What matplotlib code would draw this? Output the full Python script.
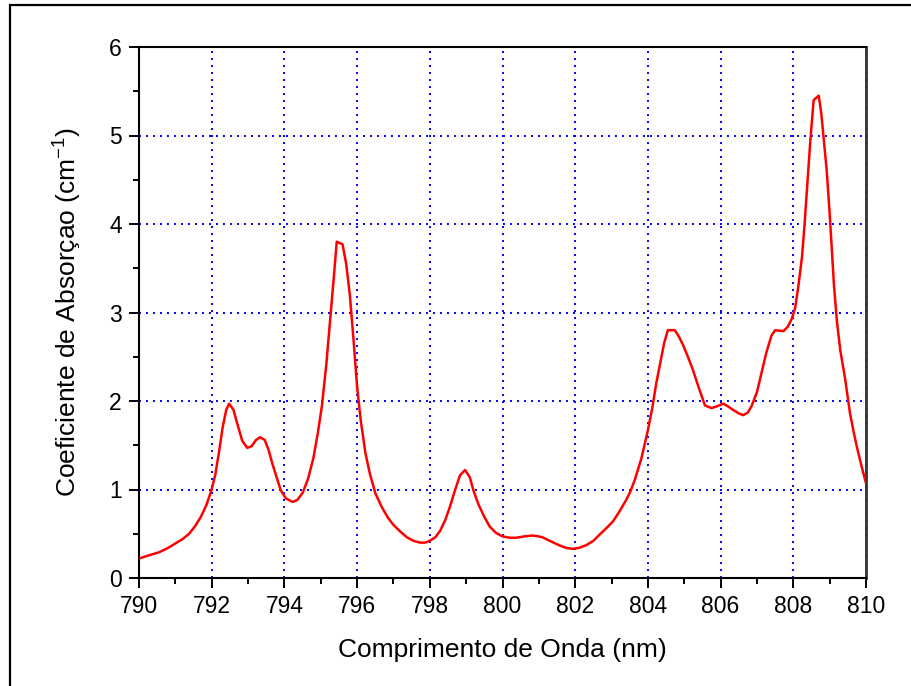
import numpy as np
import matplotlib
matplotlib.use('Agg')
import matplotlib.pyplot as plt
from matplotlib.patches import Rectangle
from matplotlib.ticker import MultipleLocator

plt.rcParams['font.family'] = ['Liberation Sans', 'DejaVu Sans']
plt.rcParams['mathtext.fontset'] = 'custom'
plt.rcParams['mathtext.rm'] = 'Liberation Sans'
plt.rcParams['mathtext.it'] = 'Liberation Sans'

# wavelength (nm) and absorption coefficient (cm^-1)
wavelength = [790.0, 790.3, 790.55, 790.8, 791.0, 791.2, 791.38, 791.55, 791.7, 791.85,
              792.0, 792.1, 792.2, 792.3, 792.4, 792.48, 792.6, 792.72, 792.84, 792.98,
              793.1, 793.22, 793.33, 793.46, 793.57, 793.67, 793.8, 793.9, 794.04, 794.22,
              794.35, 794.5, 794.65, 794.8, 794.92, 795.03, 795.15, 795.26, 795.36, 795.44,
              795.6, 795.7, 795.8, 795.9, 796.0, 796.1, 796.23, 796.35, 796.5, 796.68,
              796.85, 797.0, 797.2, 797.37, 797.55, 797.73, 797.88, 798.0, 798.15, 798.28,
              798.42, 798.55, 798.7, 798.83, 798.97, 799.1, 799.2, 799.33, 799.5, 799.65,
              799.82, 800.0, 800.2, 800.37, 800.6, 800.83, 801.0, 801.1, 801.3, 801.56,
              801.75, 801.93, 802.1, 802.3, 802.5, 802.67, 802.85, 803.04, 803.2, 803.4,
              803.52, 803.64, 803.82, 804.0, 804.12, 804.23, 804.35, 804.45, 804.55, 804.74,
              804.85, 804.97, 805.1, 805.24, 805.4, 805.57, 805.75, 805.9, 806.07, 806.2,
              806.34, 806.5, 806.62, 806.75, 806.85, 807.0, 807.12, 807.26, 807.4, 807.5,
              807.73, 807.85, 807.96, 808.05, 808.14, 808.24, 808.31, 808.38, 808.47, 808.56,
              808.7, 808.77, 808.83, 808.92, 809.0, 809.12, 809.2, 809.29, 809.43, 809.56,
              809.66, 809.75, 809.88, 810.0]
absorption = [0.22, 0.26, 0.29, 0.34, 0.39, 0.44, 0.50, 0.59, 0.69, 0.82,
              1.00, 1.17, 1.42, 1.70, 1.90, 1.97, 1.90, 1.72, 1.55, 1.47,
              1.49, 1.56, 1.59, 1.56, 1.44, 1.29, 1.12, 0.99, 0.90, 0.86,
              0.88, 0.96, 1.12, 1.36, 1.64, 1.94, 2.40, 2.92, 3.40, 3.80,
              3.77, 3.55, 3.20, 2.70, 2.16, 1.78, 1.41, 1.18, 0.96, 0.80,
              0.68, 0.60, 0.52, 0.46, 0.42, 0.40, 0.40, 0.42, 0.46, 0.53,
              0.65, 0.80, 1.00, 1.16, 1.22, 1.14, 0.99, 0.84, 0.69, 0.58,
              0.51, 0.47, 0.455, 0.455, 0.47, 0.48, 0.47, 0.46, 0.42, 0.37,
              0.34, 0.33, 0.34, 0.37, 0.42, 0.49, 0.56, 0.64, 0.74, 0.88,
              0.98, 1.11, 1.35, 1.67, 1.92, 2.20, 2.45, 2.66, 2.80, 2.80,
              2.73, 2.63, 2.50, 2.35, 2.15, 1.95, 1.92, 1.94, 1.97, 1.94,
              1.90, 1.86, 1.84, 1.87, 1.94, 2.10, 2.31, 2.55, 2.74, 2.80,
              2.79, 2.84, 2.93, 3.05, 3.30, 3.63, 4.00, 4.42, 4.95, 5.40,
              5.45, 5.25, 4.99, 4.60, 4.12, 3.30, 2.90, 2.58, 2.24, 1.86,
              1.65, 1.48, 1.26, 1.07]

x_ticks = [790, 792, 794, 796, 798, 800, 802, 804, 806, 808, 810]
y_ticks = [0, 1, 2, 3, 4, 5, 6]

fig = plt.figure(figsize=(9.12, 6.86), dpi=100)
ax = fig.add_axes([139/912, 1-578/686, 727/912, 531/686])

# outer frame around the figure
fig.patches.append(Rectangle((10/912, -0.05), 1.2, 1.05 - 5/686,
                             transform=fig.transFigure, fill=False,
                             edgecolor='black', linewidth=1.6))

ax.plot(wavelength, absorption, color='red', linewidth=1.8, zorder=3)

ax.set_xlim(790, 810)
ax.set_ylim(0, 6)
ax.set_xticks(x_ticks)
ax.set_yticks(y_ticks)
ax.xaxis.set_minor_locator(MultipleLocator(1))
ax.yaxis.set_minor_locator(MultipleLocator(0.5))

ax.grid(True, which='major', color='blue', linestyle=(0, (1, 2.6)), linewidth=1.4)
ax.tick_params(which='major', direction='out', length=7.5, width=1.4,
               labelsize=16.5, pad=5, top=False, right=False)
ax.tick_params(which='minor', direction='out', length=4, width=1.4,
               top=False, right=False)

for side in ['left', 'bottom', 'top']:
    ax.spines[side].set_linewidth(1.5)
ax.spines['right'].set_linewidth(2.0)
ax.spines['right'].set_color('#333333')

ax.set_xlabel('Comprimento de Onda (nm)', fontsize=19, labelpad=14)
ax.set_ylabel('Coeficiente de Absorçao (cm$^{-1}$)', fontsize=19, labelpad=18)

fig.savefig('out.png', dpi=100)
